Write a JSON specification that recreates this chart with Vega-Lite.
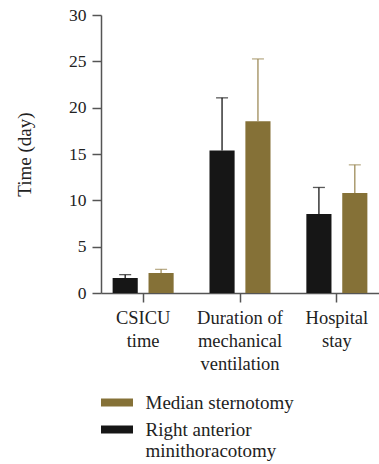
{
  "$schema": "https://vega.github.io/schema/vega-lite/v6.json",
  "width": 278,
  "height": 278,
  "autosize": {"type": "none"},
  "padding": {"left": 101, "top": 15, "right": 0, "bottom": 171},
  "background": "white",
  "config": {
    "view": {"stroke": null},
    "font": "Liberation Serif",
    "axis": {"labelFont": "Liberation Serif", "titleFont": "Liberation Serif"},
    "legend": {"labelFont": "Liberation Serif"}
  },
  "data": {
    "values": [
      {"category": "CSICU time", "group": "Right anterior minithoracotomy", "value": 1.62, "upper": 1.98},
      {"category": "CSICU time", "group": "Median sternotomy", "value": 2.16, "upper": 2.55},
      {"category": "Duration of mechanical ventilation", "group": "Right anterior minithoracotomy", "value": 15.38, "upper": 21.06},
      {"category": "Duration of mechanical ventilation", "group": "Median sternotomy", "value": 18.54, "upper": 25.26},
      {"category": "Hospital stay", "group": "Right anterior minithoracotomy", "value": 8.52, "upper": 11.39},
      {"category": "Hospital stay", "group": "Median sternotomy", "value": 10.78, "upper": 13.83}
    ]
  },
  "encoding": {
    "x": {
      "field": "category",
      "type": "nominal",
      "sort": null,
      "scale": {"paddingInner": 0.37, "paddingOuter": 0.12},
      "axis": {
        "title": null,
        "labelAngle": 0,
        "labelFontSize": 18.5,
        "labelColor": "#222222",
        "labelLineHeight": 23,
        "labelPadding": 6,
        "labelBaseline": "top",
        "tickColor": "#555555",
        "tickSize": 9,
        "tickWidth": 1.5,
        "domainColor": "#555555",
        "domainWidth": 1.5,
        "labelExpr": "datum.value == 'CSICU time' ? ['CSICU','time'] : datum.value == 'Hospital stay' ? ['Hospital','stay'] : ['Duration of','mechanical','ventilation']"
      }
    },
    "xOffset": {
      "field": "group",
      "type": "nominal",
      "sort": ["Right anterior minithoracotomy", "Median sternotomy"],
      "scale": {"paddingInner": 0.3, "paddingOuter": 0}
    }
  },
  "layer": [
    {
      "mark": {"type": "bar"},
      "encoding": {
        "y": {
          "field": "value",
          "type": "quantitative",
          "scale": {"domain": [0, 30], "nice": false},
          "axis": {
            "title": "Time (day)",
            "titleFontSize": 19,
            "titleFontWeight": "normal",
            "titleColor": "#222222",
            "titlePadding": 34,
            "values": [0, 5, 10, 15, 20, 25, 30],
            "grid": false,
            "labelFontSize": 17.5,
            "labelColor": "#222222",
            "labelPadding": 6,
            "tickColor": "#555555",
            "tickSize": 9,
            "tickWidth": 1.5,
            "domainColor": "#555555",
            "domainWidth": 1.5
          }
        },
        "color": {
          "field": "group",
          "type": "nominal",
          "scale": {
            "domain": ["Median sternotomy", "Right anterior minithoracotomy"],
            "range": ["#857137", "#161616"]
          },
          "legend": {
            "title": null,
            "orient": "none",
            "legendX": 6.5,
            "legendY": 378,
            "direction": "vertical",
            "symbolType": "M-2,-0.5H2V0.5H-2Z",
            "symbolSize": 256,
            "symbolStrokeWidth": 0,
            "labelFontSize": 19,
            "labelColor": "#222222",
            "labelLineHeight": 22,
            "labelOffset": 19,
            "rowPadding": 7,
            "labelLimit": 300,
            "labelExpr": "datum.label == 'Right anterior minithoracotomy' ? ['Right anterior','minithoracotomy'] : datum.label"
          }
        }
      }
    },
    {
      "mark": {"type": "rule", "strokeWidth": 1.3},
      "encoding": {
        "y": {"field": "value", "type": "quantitative"},
        "y2": {"field": "upper"},
        "color": {
          "condition": {"test": "datum.group == 'Median sternotomy'", "value": "#9e8c5a"},
          "value": "#161616"
        }
      }
    },
    {
      "mark": {"type": "tick", "size": 12, "thickness": 1.3},
      "encoding": {
        "y": {"field": "upper", "type": "quantitative"},
        "color": {
          "condition": {"test": "datum.group == 'Median sternotomy'", "value": "#9e8c5a"},
          "value": "#161616"
        }
      }
    }
  ]
}
